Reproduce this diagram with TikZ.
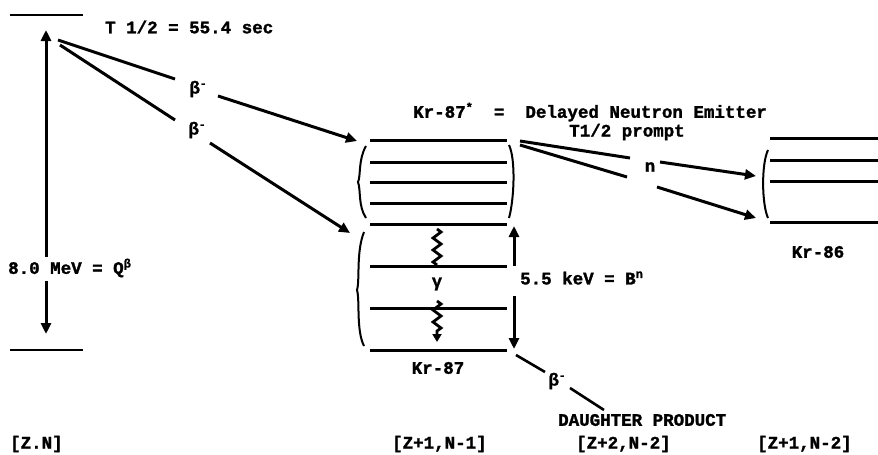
\documentclass[tikz,border=0pt]{standalone}
\usepackage{fontspec}
\setmainfont{Liberation Mono}[BoldFeatures={FakeBold=1.5}]
\usetikzlibrary{arrows.meta,decorations.pathmorphing,calc}
\newcommand{\betam}{β\raisebox{0.7ex}{\fontsize{11}{11}\selectfont -}}
\begin{document}
\begin{tikzpicture}[x=1pt,y=-1pt,
  lvl/.style={line width=3pt},
  thin lvl/.style={line width=2.2pt},
  conn/.style={line width=3pt},
  arr/.style={line width=3pt,-{Triangle[length=11pt,width=10pt]}},
  paren/.style={line width=2pt},
  lbl/.style={font=\fontsize{17.5}{19}\selectfont\bfseries,inner sep=0pt},
  wig/.style={line width=2.8pt,decorate,decoration={zigzag,segment length=12pt,amplitude=4pt}}]
\useasboundingbox (0,0) rectangle (878,455);
% parent levels
\coordinate (p1l) at (10,15); \coordinate (p1r) at (83,15);
\coordinate (p2l) at (10,350); \coordinate (p2r) at (83,350);
\draw[thin lvl] (p1l) -- (p1r);
\draw[thin lvl] (p2l) -- (p2r);
\node[lbl,anchor=west] (thalf) at (105,27) {T 1/2 = 55.4 sec};
\node[lbl,anchor=west] (qb) at (8,268) {8.0 MeV = Q\raisebox{0.7ex}{\fontsize{12}{12}\selectfont β}};
\coordinate (qu1) at (46,257); \coordinate (qu2) at (46,30);
\coordinate (qd1) at (46,281); \coordinate (qd2) at (46,334);
\draw[arr] (qu1) -- (qu2);
\draw[arr] (qd1) -- (qd2);
% beta decays
\coordinate (s1) at (58,40); \coordinate (m1) at (175,79);
\node[lbl] (b1) at (198,89) {\betam};
\coordinate (n1) at (218,96); \coordinate (e1) at (357,141);
\draw[conn] (s1) -- (m1);
\draw[arr] (n1) -- (e1);
\coordinate (s2) at (60,45); \coordinate (m2) at (175,120);
\node[lbl] (b2) at (197,130) {\betam};
\coordinate (n2) at (210,143); \coordinate (e2) at (350,233);
\draw[conn] (s2) -- (m2);
\draw[arr] (n2) -- (e2);
% Kr-87 levels
\foreach \y [count=\i] in {140,162,182,203,224,266,308,350}{
  \coordinate (k\i l) at (370,\y); \coordinate (k\i r) at (507,\y);
  \draw[lvl] (k\i l) -- (k\i r);
}
\draw[paren] (366,146) .. controls (358,160) and (361,176) .. (358,182) .. controls (361,190) and (358,206) .. (366,218);
\draw[paren] (364,232) .. controls (356,252) and (360,280) .. (357,290) .. controls (360,300) and (356,330) .. (364,346);
\draw[paren] (509,145) .. controls (516,160) and (514,200) .. (509,218);
\node[lbl,anchor=west] (kr87s) at (413,112) {Kr-87\raisebox{0.7ex}{\fontsize{12}{12}\selectfont *}~~=~~Delayed Neutron Emitter};
\node[lbl] (tprompt) at (627,132) {T1/2 prompt};
\node[lbl] (kr87) at (438,368) {Kr-87};
% gamma
\coordinate (g1) at (437,229); \coordinate (g2) at (437,265);
\coordinate (g3) at (437,301); \coordinate (g4) at (437,342);
\coordinate (g4a) at (437,334);
\draw[wig] (g1) -- (g2);
\node[lbl] (gam) at (437,284) {γ};
\draw[wig] (g3) -- (g4a);
\draw[line width=2.4pt,-{Triangle[length=8pt,width=9pt]}] (g4a) -- (g4);
% B^n arrows
\coordinate (bu1) at (514,266); \coordinate (bu2) at (514,226);
\coordinate (bd1) at (514,296); \coordinate (bd2) at (514,349);
\draw[arr] (bu1) -- (bu2);
\draw[arr] (bd1) -- (bd2);
\node[lbl,anchor=west] (bn) at (520,278) {5.5 keV = B\raisebox{0.7ex}{\fontsize{12}{12}\selectfont n}};
% neutron emission
\coordinate (ns1) at (520,141); \coordinate (nm1) at (630,158);
\coordinate (ns2) at (520,145); \coordinate (nm2) at (627,177);
\node[lbl] (nn) at (650,167) {n};
\coordinate (nn1) at (660,162); \coordinate (ne1) at (756,176);
\coordinate (nn2) at (657,187); \coordinate (ne2) at (756,218);
\draw[conn] (ns1) -- (nm1);
\draw[conn] (ns2) -- (nm2);
\draw[arr] (nn1) -- (ne1);
\draw[arr] (nn2) -- (ne2);
% Kr-86 levels
\foreach \y [count=\i] in {138,160,181,222}{
  \coordinate (r\i l) at (770,\y); \coordinate (r\i r) at (878,\y);
  \draw[lvl] (r\i l) -- (r\i r);
}
\draw[paren] (768,150) .. controls (761,165) and (762,205) .. (768,218);
\node[lbl] (kr86) at (818,252) {Kr-86};
% daughter
\coordinate (d1) at (516,355); \coordinate (d2) at (545,372);
\node[lbl] (b3) at (557,381) {\betam};
\coordinate (d3) at (570,388); \coordinate (d4) at (604,410);
\draw[line width=2.6pt] (d1) -- (d2);
\draw[line width=2.6pt] (d3) -- (d4);
\node[lbl,anchor=west] (dp) at (558,420) {DAUGHTER PRODUCT};
% bottom labels
\node[lbl,anchor=west] (zn) at (10,444) {[Z.N]};
\node[lbl,anchor=west] (z1) at (392,444) {[Z+1,N-1]};
\node[lbl,anchor=west] (z2) at (576,444) {[Z+2,N-2]};
\node[lbl,anchor=west] (z3) at (757,444) {[Z+1,N-2]};
\end{tikzpicture}
\end{document}
